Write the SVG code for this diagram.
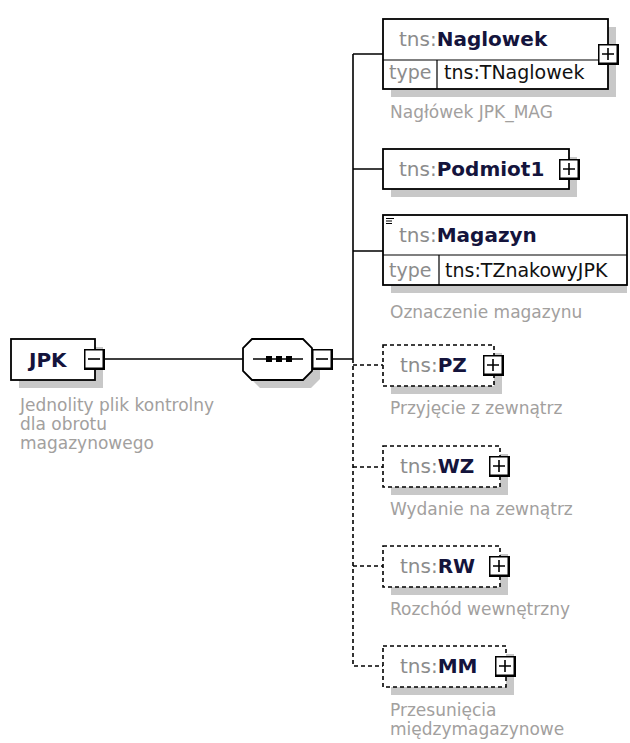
<svg xmlns="http://www.w3.org/2000/svg" width="630" height="743" viewBox="0 0 630 743">
<style>
.box{fill:#fff;stroke:#000;stroke-width:1.8}
.opt{fill:#fff;stroke:#000;stroke-width:1.6;stroke-dasharray:4 3}
.sh{fill:#c8c8c8}
.sep{fill:none;stroke:#000;stroke-width:1.2}
.ln{fill:none;stroke:#000;stroke-width:1.6}
.dl{fill:none;stroke:#000;stroke-width:1.6;stroke-dasharray:4 3}
.pre{font-family:"DejaVu Sans",sans-serif;font-size:20px;fill:#8c8c8c}
.nm{font-weight:bold;fill:#14143c}
.ty{font-family:"DejaVu Sans",sans-serif;font-size:19px;fill:#8c8c8c}
.tv{font-family:"DejaVu Sans",sans-serif;font-size:19px;fill:#111}
.ds{font-family:"DejaVu Sans",sans-serif;font-size:17px;fill:#a2a09e}
</style>
<defs>
<g id="btnPlus"><rect width="21" height="21" fill="#000"/><rect x="1.5" y="1.5" width="17" height="17" fill="#fff"/><path d="M4 10H16M10 4V16" stroke="#000" stroke-width="1.6"/></g>
<g id="btnMinus"><rect width="21" height="21" fill="#000"/><rect x="1.5" y="1.5" width="17" height="17" fill="#fff"/><path d="M4 10H16" stroke="#000" stroke-width="1.6"/></g>
</defs>
<g id="connectors">
<path class="ln" d="M105 359H243M333 359H353M353 54V359M353 54H383M353 169H383M353 251H383"/>
<path class="dl" d="M353 359V666H383M353 365H383M353 467H383M353 566H383"/>
</g>
<g id="JPK">
<rect class="sh" x="19" y="347" width="84" height="41"/>
<rect class="box" x="11" y="339" width="84" height="41"/>
<text x="29" y="366.5" class="pre"><tspan class="nm">JPK</tspan></text>
<use href="#btnMinus" x="84" y="349"/>
<text class="ds" x="20" y="411">Jednolity plik kontrolny</text>
<text class="ds" x="20" y="430">dla obrotu</text>
<text class="ds" x="20" y="449">magazynowego</text>
</g>
<g id="sequence">
<path class="sh" d="M260 347H311L320 356V379L311 388H260L251 379V356Z"/>
<path class="box" d="M252 339H303L312 348V371L303 380H252L243 371V348Z"/>
<path class="ln" d="M253 359H303"/>
<rect x="266" y="356" width="6" height="6" fill="#000"/>
<rect x="276" y="356" width="6" height="6" fill="#000"/>
<rect x="286" y="356" width="6" height="6" fill="#000"/>
<use href="#btnMinus" x="312" y="349"/>
</g>
<g id="Naglowek">
<rect class="sh" x="391" y="27" width="225" height="70"/>
<rect class="box" x="383" y="19" width="225" height="70"/>
<path class="sep" d="M383 60H608M437 60V89"/>
<text x="399" y="46" class="pre">tns:<tspan class="nm">Naglowek</tspan></text>
<text x="389" y="79" class="ty">type</text>
<text x="444" y="79" class="tv">tns:TNaglowek</text>
<use href="#btnPlus" x="598" y="44"/>
<text class="ds" x="390" y="118">Nagłówek JPK_MAG</text>
</g>
<g id="Podmiot1">
<rect class="sh" x="391" y="157" width="186" height="40"/>
<rect class="box" x="383" y="149" width="186" height="40"/>
<text x="399" y="176" class="pre">tns:<tspan class="nm">Podmiot1</tspan></text>
<use href="#btnPlus" x="559" y="159"/>
</g>
<g id="Magazyn">
<rect class="sh" x="391" y="223" width="236" height="70"/>
<rect class="box" x="383" y="215" width="244" height="70"/>
<path class="sep" d="M383 255H627M439 255V285"/>
<path d="M386 218.5H394M386 221H392M386 223.5H392" stroke="#000" stroke-width="1.2"/>
<text x="399" y="242" class="pre">tns:<tspan class="nm">Magazyn</tspan></text>
<text x="389" y="277" class="ty">type</text>
<text x="445" y="277" class="tv">tns:TZnakowyJPK</text>
<text class="ds" x="390" y="318">Oznaczenie magazynu</text>
</g>
<g id="PZ">
<rect class="sh" x="391" y="353" width="111" height="41"/>
<rect class="opt" x="383" y="345" width="111" height="41"/>
<text x="400" y="372" class="pre">tns:<tspan class="nm">PZ</tspan></text>
<use href="#btnPlus" x="483" y="355"/>
<text class="ds" x="390" y="414">Przyjęcie z zewnątrz</text>
</g>
<g id="WZ">
<rect class="sh" x="391" y="454" width="117" height="41"/>
<rect class="opt" x="383" y="446" width="117" height="41"/>
<text x="400" y="473" class="pre">tns:<tspan class="nm">WZ</tspan></text>
<use href="#btnPlus" x="489" y="456"/>
<text class="ds" x="390" y="515">Wydanie na zewnątrz</text>
</g>
<g id="RW">
<rect class="sh" x="391" y="554" width="117" height="41"/>
<rect class="opt" x="383" y="546" width="117" height="41"/>
<text x="400" y="573" class="pre">tns:<tspan class="nm">RW</tspan></text>
<use href="#btnPlus" x="489" y="556"/>
<text class="ds" x="390" y="615">Rozchód wewnętrzny</text>
</g>
<g id="MM">
<rect class="sh" x="391" y="654" width="123" height="41"/>
<rect class="opt" x="383" y="646" width="123" height="41"/>
<text x="400" y="673" class="pre">tns:<tspan class="nm">MM</tspan></text>
<use href="#btnPlus" x="495" y="656"/>
<text class="ds" x="390" y="716">Przesunięcia</text>
<text class="ds" x="390" y="735">międzymagazynowe</text>
</g>
</svg>
